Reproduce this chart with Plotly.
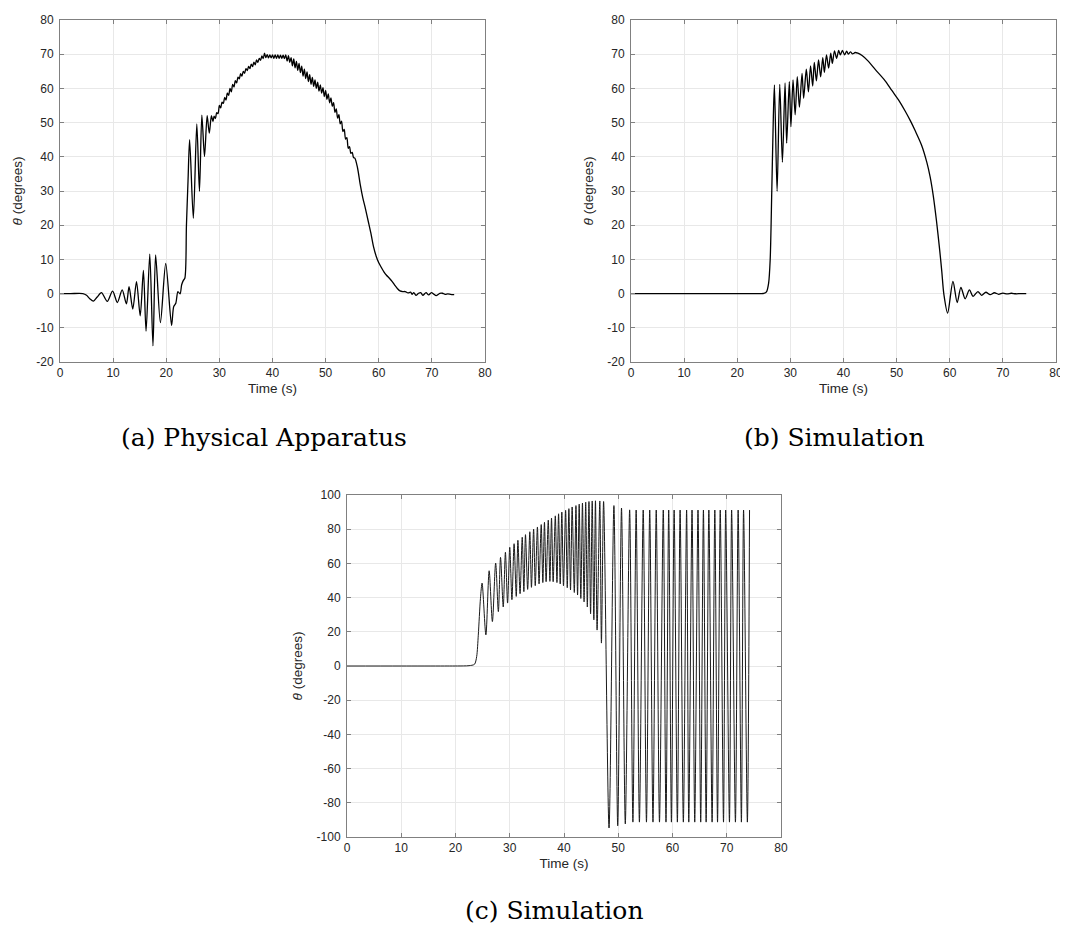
import plotly.graph_objects as go

# ---------------- data ----------------
# Panel (a) Physical Apparatus: (time s, theta deg)
A_SAMPLES = [
    (0, 0), (2.0, 0), (4.3, 0), (5.0, -0.5), (5.6, -1.5), (6.3, -2.2), (7.0, -1.0), (7.8, 0.3),
    (8.9, -2.3), (9.9, 0.7), (10.8, -2.6), (11.7, 1.1), (12.5, -3.0), (13.0, 2.0),
    (13.7, -4.5), (14.4, 3.5), (15.1, -6.5), (15.7, 6.8), (16.2, -11.0), (16.9, 11.5),
    (17.5, -15.3), (18.0, 11.3), (18.9, -8.5), (19.9, 8.8), (21.0, -9.3), (21.4, -3.8),
    (21.8, -2.8), (22.2, 0.6), (22.6, -0.1), (22.9, 2.6), (23.2, 3.8), (23.5, 4.5),
    (23.8, 20.0), (24.1, 33.0), (24.4, 45.0), (25.1, 22.0), (25.75, 49.6), (26.25, 29.9),
    (26.7, 52.2), (27.2, 40.1), (27.7, 52.0), (28.1, 46.9), (28.5, 52.0), (28.8, 50.3),
    (29.00, 51.9), (29.25, 51.2), (29.50, 52.9), (29.75, 52.6), (30.00, 55.0), (30.25, 54.3),
    (30.50, 56.0), (30.75, 55.6), (31.00, 57.4), (31.25, 56.6), (31.50, 58.6), (31.75, 58.0),
    (32.00, 60.0), (32.25, 59.0), (32.50, 61.2), (32.75, 60.4), (33.00, 62.3), (33.25, 61.6),
    (33.50, 63.3), (33.75, 62.8), (34.00, 64.3), (34.25, 63.6), (34.50, 65.0), (34.75, 64.4),
    (35.00, 65.8), (35.25, 65.2), (35.50, 66.4), (35.75, 65.8), (36.00, 67.1), (36.25, 66.4),
    (36.50, 67.7), (36.75, 66.9), (37.00, 68.3), (37.25, 67.6), (37.50, 68.8), (37.75, 68.2),
    (38.00, 69.5), (38.25, 68.7), (38.50, 70.3), (38.75, 69.0), (39.00, 69.9), (39.25, 68.9),
    (39.50, 69.8), (39.75, 68.9), (40.00, 69.8), (40.25, 68.8), (40.50, 69.8), (40.75, 68.8),
    (41.00, 69.8), (41.25, 68.8), (41.50, 69.7), (41.75, 68.8), (42.00, 69.7), (42.25, 68.7),
    (42.50, 69.8), (42.75, 68.0), (43.00, 69.6), (43.25, 67.6), (43.50, 69.0), (43.75, 66.6),
    (44.00, 68.6), (44.25, 66.0), (44.50, 67.9), (44.75, 65.3), (45.00, 67.3), (45.25, 64.6),
    (45.50, 66.5), (45.75, 63.6), (46.00, 65.6), (46.25, 62.9), (46.50, 64.8), (46.75, 62.0),
    (47.00, 64.0), (47.25, 61.2), (47.50, 63.2), (47.75, 60.6), (48.00, 62.5), (48.25, 60.0),
    (48.50, 61.8), (48.75, 59.2), (49.00, 61.0), (49.25, 58.6), (49.50, 60.2), (49.75, 57.6),
    (50.00, 59.4), (50.25, 56.8), (50.50, 58.4), (50.75, 55.8), (51.00, 57.2), (51.25, 54.8),
    (51.50, 55.8), (51.75, 53.0), (52.00, 54.0), (52.25, 51.3), (52.50, 52.3), (52.75, 49.6),
    (53.00, 50.4), (53.25, 47.4), (53.50, 48.0), (53.75, 45.2), (54.00, 45.6), (54.25, 42.5),
    (54.50, 43.0), (54.75, 41.0), (55.00, 41.3), (55.25, 39.8), (55.50, 39.6),
    (56.0, 36.8), (56.5, 32.0), (57.0, 28.0), (57.5, 24.8), (58.0, 21.3), (58.5, 17.8),
    (59.0, 13.8), (59.5, 11.0), (60.0, 9.0), (60.5, 7.6), (61.0, 6.3), (61.5, 5.3),
    (62.0, 4.5), (62.5, 3.6), (63.0, 2.5), (63.5, 1.5), (64.0, 0.8), (64.5, 0.6),
    (65.0, 0.6), (65.5, 0.2), (66.0, 0.4), (66.3, -0.2), (66.6, 0.3), (67.0, -0.5),
    (67.5, 0.1), (67.9, 0.3), (68.3, -0.5), (68.9, 0.3), (69.4, -0.4), (69.9, 0.3),
    (70.4, -0.2), (70.8, -0.6), (71.5, 0.1), (72.0, 0.1), (72.5, -0.2), (73.0, -0.1),
    (73.5, -0.2), (74.2, -0.3),
]

# Panel (b) Simulation
B_SAMPLES = [
    (0, 0), (10.0, 0), (20.0, 0), (24.0, 0), (25.0, 0.05), (25.5, 0.5), (25.9, 3.0),
    (26.2, 10.0), (26.5, 30.0), (26.8, 52.0),
    (27.0, 61.0), (27.5, 29.9), (28.0, 61.2), (28.5, 38.4), (29.0, 61.6), (29.3, 44.0),
    (29.8, 62.0), (30.1, 48.8), (30.5, 62.5), (30.9, 52.3), (31.3, 63.4), (31.7, 54.5),
    (32.2, 64.4), (32.5, 57.1), (33.0, 65.6), (33.4, 59.0), (33.8, 66.6), (34.2, 60.7),
    (34.5, 67.6), (34.9, 62.2), (35.3, 68.3), (35.7, 63.4), (36.1, 69.0), (36.4, 64.7),
    (36.8, 69.8), (37.2, 65.9), (37.6, 70.3), (37.9, 67.3), (38.3, 71.0), (38.7, 68.8),
    (39.1, 71.1), (39.4, 69.8), (39.8, 71.1), (40.2, 69.8), (40.6, 70.9), (40.9, 70.0),
    (41.3, 70.7), (41.7, 70.1), (42.2, 70.5), (42.7, 70.3), (43.5, 69.6), (44.7, 67.9),
    (46.0, 65.5), (47.8, 62.3), (49.1, 59.4), (50.5, 56.3), (51.6, 53.4), (52.6, 50.5),
    (53.5, 47.6), (54.7, 43.4), (55.7, 38.3), (56.3, 34.2), (56.9, 28.6), (57.5, 21.3),
    (58.1, 12.8), (58.5, 6.5), (58.9, -0.3), (59.6, -5.7), (60.6, 3.6), (61.4, -2.6),
    (62.1, 1.8), (62.9, -1.5), (63.7, 1.1), (64.4, -0.8), (65.3, 0.6), (66.0, -0.5),
    (66.8, 0.4), (67.6, -0.3), (68.4, 0.25), (69.2, -0.2), (70.0, 0.15), (70.8, -0.1),
    (71.6, 0.1), (72.4, -0.05), (73.4, 0), (74.4, 0),
]

# Panel (c) Simulation
C_SAMPLES = [
    (0, 0), (10.0, 0), (18.0, 0), (21.5, 0.05), (22.5, 0.2), (23.5, 1.0), (23.9, 5.5),
    (24.2, 18.0), (24.6, 39.6), (24.9, 48.5),
    (25.6, 18.2), (26.2, 55.7), (26.8, 26.0), (27.4, 60.2), (27.9, 31.8), (28.3, 63.5),
    (28.8, 34.5), (29.2, 66.5), (29.6, 36.8), (30.0, 69.4), (30.4, 38.8), (30.8, 71.5),
    (31.2, 40.7), (31.5, 73.5), (31.9, 42.3), (32.3, 75.3), (32.6, 43.5), (32.9, 76.8),
    (33.3, 44.8), (33.7, 78.5), (34.0, 46.0), (34.4, 80.0), (34.7, 47.0), (35.1, 81.3),
    (35.4, 48.0), (35.8, 82.7), (36.1, 48.8), (36.4, 84.0), (36.7, 49.3), (37.1, 85.3),
    (37.4, 49.5), (37.7, 86.5), (38.0, 49.3), (38.4, 87.8), (38.7, 48.8), (39.0, 89.0),
    (39.3, 48.0), (39.6, 90.0), (39.9, 47.0), (40.3, 91.0), (40.6, 45.8), (40.9, 92.0),
    (41.2, 44.5), (41.5, 93.0), (41.9, 43.0), (42.2, 93.8), (42.5, 41.5), (42.8, 94.6),
    (43.1, 39.5), (43.4, 95.3), (43.7, 37.5), (44.0, 95.8), (44.3, 34.5), (44.6, 96.2),
    (44.9, 30.5), (45.2, 96.5), (45.5, 27.0), (45.8, 96.6), (46.1, 21.0), (46.6, 96.5),
    (46.9, 13.4), (47.3, 96.2), (48.3, -94.7), (49.2, 93.8), (49.9, -93.4), (50.6, 92.4),
    (51.3, -92.3), (52.1, 91.3), (52.7, -91.3), (53.3, 91.2), (53.9, -91.3), (54.6, 91.2),
    (55.2, -91.3), (55.8, 91.2), (56.4, -91.3), (57.0, 91.2), (57.6, -91.3), (58.3, 91.2),
    (58.8, -91.3), (59.3, 91.2), (59.8, -91.3), (60.3, 91.2), (60.9, -91.3), (61.4, 91.2),
    (62.0, -91.3), (62.6, 91.2), (63.0, -91.3), (63.6, 91.2), (64.1, -91.3), (64.7, 91.2),
    (65.2, -91.3), (65.7, 91.2), (66.2, -91.3), (66.7, 91.2), (67.3, -91.3), (67.8, 91.2),
    (68.3, -91.3), (68.8, 91.2), (69.4, -91.3), (69.8, 91.2), (70.5, -91.3), (70.9, 91.2),
    (71.6, -91.3), (72.1, 91.2), (72.7, -91.3), (73.1, 91.2), (73.8, -91.3), (74.2, 91.2),
]

X_TICKS = [0, 10, 20, 30, 40, 50, 60, 70, 80]
Y_TICKS_AB = [-20, -10, 0, 10, 20, 30, 40, 50, 60, 70, 80]
Y_TICKS_C = [-100, -80, -60, -40, -20, 0, 20, 40, 60, 80, 100]
X_TITLE = "Time (s)"
Y_TITLE = "<i>θ</i> (degrees)"
CAPTIONS = ["(a) Physical Apparatus", "(b) Simulation", "(c) Simulation"]

# ---------------- figure ----------------
W, H = 1068, 927
fig = go.Figure()

def unzip(samples):
    return [p[0] for p in samples], [p[1] for p in samples]

for samples, xa, ya, width, color in [
    (A_SAMPLES, "x", "y", 1.3, "#000000"),
    (B_SAMPLES, "x2", "y2", 1.3, "#000000"),
    (C_SAMPLES, "x3", "y3", 1.0, "#1a1a1a"),
]:
    t, th = unzip(samples)
    fig.add_trace(go.Scatter(x=t, y=th, xaxis=xa, yaxis=ya, mode="lines",
                             line=dict(color=color, width=width, shape="spline", smoothing=0.8),
                             showlegend=False, hoverinfo="skip"))

tick_font = dict(family="Liberation Sans, Arial, sans-serif", size=12, color="#262626")
title_font = dict(family="Liberation Sans, Arial, sans-serif", size=13.5, color="#262626")
axis_common = dict(showgrid=True, gridcolor="#e8e8e8", gridwidth=1, showline=True,
                   linecolor="#808080", linewidth=1, mirror="ticks", ticks="inside",
                   ticklen=4, tickcolor="#808080", zeroline=False, tickfont=tick_font,
                   automargin=False, fixedrange=True, ticklabeloverflow="allow")

def ticks(vals):
    return dict(tickmode="array", tickvals=vals, ticktext=[str(v) for v in vals])

def px_x(a, b):
    return [a / W, b / W]

def px_y(top, bottom):
    return [1 - bottom / H, 1 - top / H]

fig.update_layout(
    width=W, height=H, margin=dict(l=0, r=0, t=0, b=0),
    paper_bgcolor="white", plot_bgcolor="white", showlegend=False,
    xaxis=dict(domain=px_x(52, 477), anchor="y", range=[0, 80], **ticks(X_TICKS),
               title=dict(text=X_TITLE, font=title_font, standoff=4), **axis_common),
    yaxis=dict(domain=px_y(12, 354), anchor="x", range=[-20, 80], **ticks(Y_TICKS_AB),
               ticklabelstandoff=3,
               title=dict(text=Y_TITLE, font=title_font, standoff=10), **axis_common),
    xaxis2=dict(domain=px_x(623, 1048), anchor="y2", range=[0, 80], **ticks(X_TICKS),
                title=dict(text=X_TITLE, font=title_font, standoff=4), **axis_common),
    yaxis2=dict(domain=px_y(12, 354), anchor="x2", range=[-20, 80], **ticks(Y_TICKS_AB),
                ticklabelstandoff=3,
                title=dict(text=Y_TITLE, font=title_font, standoff=10), **axis_common),
    xaxis3=dict(domain=px_x(339, 773), anchor="y3", range=[0, 80], **ticks(X_TICKS),
                title=dict(text=X_TITLE, font=title_font, standoff=4), **axis_common),
    yaxis3=dict(domain=px_y(487, 829), anchor="x3", range=[-100, 100], **ticks(Y_TICKS_C),
                ticklabelstandoff=3,
                title=dict(text=Y_TITLE, font=title_font, standoff=10), **axis_common),
)

caption_font = dict(family="DejaVu Serif, Liberation Serif, serif", size=25, color="#000000")
for text, cx, cy in zip(CAPTIONS, [256, 826, 546], [430, 430, 902]):
    fig.add_annotation(text=text, x=cx / W, y=1 - cy / H, xref="paper", yref="paper",
                       showarrow=False, xanchor="center", yanchor="middle", font=caption_font)

fig.write_html("out.html")
